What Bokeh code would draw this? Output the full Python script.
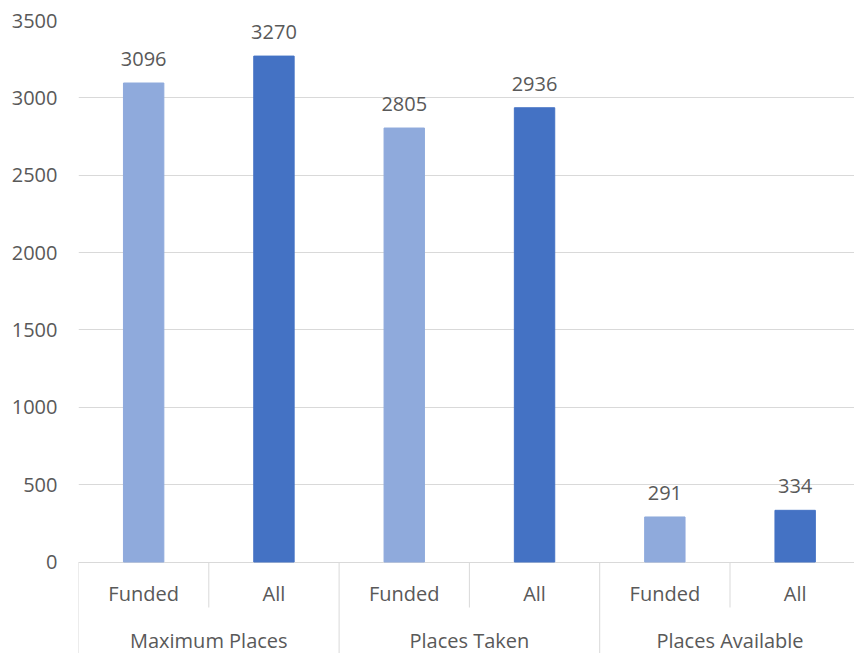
from bokeh.plotting import figure
from bokeh.models import FixedTicker, ColumnDataSource, Range1d
from bokeh.core.properties import value
from bokeh.embed import file_html
from bokeh.resources import INLINE

groups = ["Maximum Places", "Places Taken", "Places Available"]
subcats = ["Funded", "All"]
funded = [3096, 2805, 291]
all_places = [3270, 2936, 334]
y_ticks = [0, 500, 1000, 1500, 2000, 2500, 3000, 3500]

FONT = "Open Sans"
TXT = "#595959"
GRID = "#D9D9D9"
COLORS = {"Funded": "#8FAADC", "All": "#4472C4"}

# layout constants
FIG_W, FIG_H = 854, 653
BORDER_L, BORDER_T = 78, 20
FRAME_W = FIG_W - BORDER_L
FRAME_H = FIG_H - BORDER_T
PX_PER_CAT = 130.3
Y_TOP = 3500
PX_PER_UNIT = 541.5 / 3500.0
y_bottom = Y_TOP - FRAME_H / PX_PER_UNIT
x_end = FRAME_W / PX_PER_CAT

xs, vals, cols, labs, subs_l = [], [], [], [], []
for gi, g in enumerate(groups):
    for si, s in enumerate(subcats):
        idx = gi * len(subcats) + si
        v = funded[gi] if s == "Funded" else all_places[gi]
        xs.append(idx + 0.5)
        vals.append(v)
        cols.append(COLORS[s])
        labs.append(str(v))
        subs_l.append(s)

src = ColumnDataSource(dict(x=xs, top=vals, color=cols, lab=labs, sub=subs_l,
                            zero=[0] * len(xs)))

p = figure(width=FIG_W, height=FIG_H, output_backend="svg", toolbar_location=None,
           x_range=Range1d(0, x_end), y_range=Range1d(y_bottom, Y_TOP),
           x_axis_type=None, min_border_left=BORDER_L, min_border_right=0,
           min_border_top=BORDER_T, min_border_bottom=0)
p.outline_line_color = None
p.xgrid.grid_line_color = None
p.ygrid.grid_line_color = GRID
p.ygrid.grid_line_width = 1
p.yaxis.ticker = FixedTicker(ticks=y_ticks)
p.yaxis.axis_line_color = None
p.yaxis.major_tick_line_color = None
p.yaxis.minor_tick_line_color = None
p.yaxis.major_tick_out = 0
p.yaxis.major_tick_in = 0
p.yaxis.major_label_standoff = 21
p.yaxis.major_label_text_font = FONT
p.yaxis.major_label_text_font_size = "20px"
p.yaxis.major_label_text_color = TXT

p.vbar(x="x", top="top", width=0.31, color="color", source=src)

# value labels
p.text(x="x", y="top", text="lab", source=src, text_align="center",
       text_baseline="middle", y_offset=-24, text_font=value(FONT),
       text_font_size="20px", text_color=TXT)

# subcategory labels
p.text(x="x", y="zero", text="sub", source=src, text_align="center",
       text_baseline="middle", y_offset=31, text_font=value(FONT),
       text_font_size="20px", text_color=TXT)

# group labels
n = len(subcats)
gx = [gi * n + n / 2 for gi in range(len(groups))]
p.text(x=gx, y=[0] * len(groups), text=groups, text_align="center",
       text_baseline="middle", y_offset=78, text_font=value(FONT),
       text_font_size="20px", text_color=TXT)

# separators
total = len(groups) * n
sub_end = -(607 - 561.5) / PX_PER_UNIT
sx = [i for i in range(total + 1) if i % n != 0]
p.segment(x0=sx, y0=[0] * len(sx), x1=sx, y1=[sub_end] * len(sx),
          line_color=GRID, line_width=1)
gsx = [i for i in range(total + 1) if i % n == 0]
p.segment(x0=gsx, y0=[0] * len(gsx), x1=gsx, y1=[y_bottom] * len(gsx),
          line_color=GRID, line_width=1)

open("out.html", "w").write(file_html(p, INLINE))
